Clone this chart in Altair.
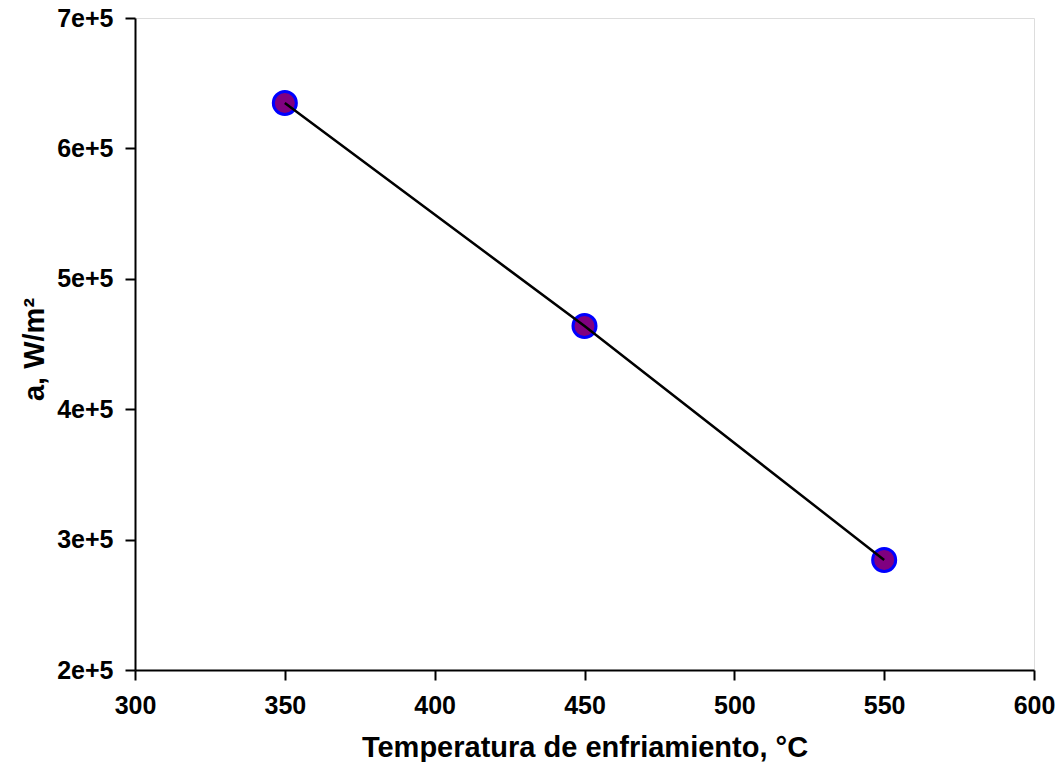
import altair as alt
import pandas as pd

temps = [350, 450, 550]
a_vals = [634800, 463800, 284400]

df = pd.DataFrame({"T": temps, "a": a_vals})

xs = alt.Scale(domain=[300, 600], nice=False, zero=False)
ys = alt.Scale(domain=[200000, 700000], nice=False, zero=False)

FONT = "Liberation Sans"

xax = alt.Axis(values=[300, 350, 400, 450, 500, 550, 600], grid=False, tickSize=10,
               tickWidth=2, domainWidth=2, domainColor="black", tickColor="black",
               labelFont=FONT, labelFontSize=25, labelFontWeight="bold",
               labelColor="black", labelPadding=13, labelFlush=False,
               titleFont=FONT, titleFontSize=29, titleFontWeight="bold",
               titleColor="black", titlePadding=15)
yax = alt.Axis(values=[200000, 300000, 400000, 500000, 600000, 700000], format=".0e",
               grid=False, tickSize=10, tickWidth=2, domainWidth=2, domainColor="black",
               tickColor="black", labelFlush=False,
               labelFont=FONT, labelFontSize=25, labelFontWeight="bold",
               labelColor="black", labelPadding=12,
               titleFont=FONT, titleFontSize=29, titleFontWeight="bold",
               titleColor="black", titlePadding=7, titleY=331)

base = alt.Chart(df)
pts = base.mark_point(filled=True, size=530, color="#800080", stroke="#0000ff",
                      strokeWidth=3, opacity=1, shape="circle").encode(
    x=alt.X("T:Q", scale=xs, axis=xax, title="Temperatura de enfriamiento, °C"),
    y=alt.Y("a:Q", scale=ys, axis=yax, title="a, W/m²"),
)
line = base.mark_line(color="black", strokeWidth=2.5).encode(
    x=alt.X("T:Q", scale=xs), y=alt.Y("a:Q", scale=ys)
)

chart = alt.layer(pts, line).properties(
    width=899, height=652,
    autosize=alt.AutoSizeParams(type="none"),
    padding={"left": 127, "top": 10, "right": 22, "bottom": 92},
).configure_view(stroke="black", strokeWidth=2).configure(background="white")

chart.save("out.html", embed_options={"renderer": "svg", "actions": False})
